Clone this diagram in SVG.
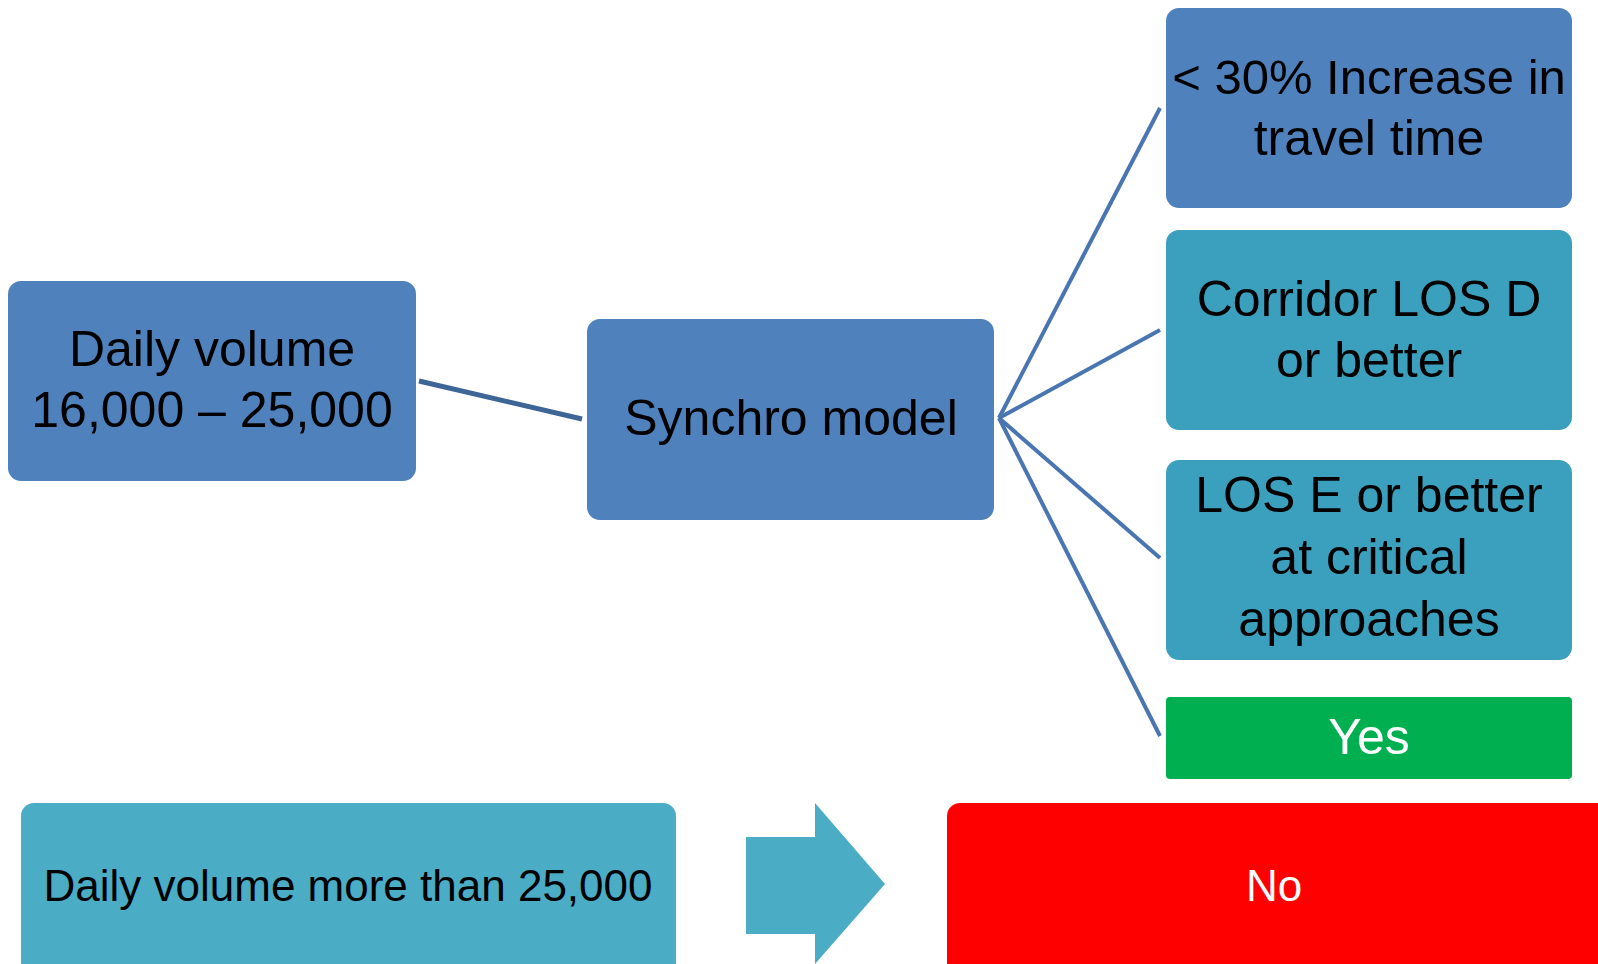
<svg xmlns="http://www.w3.org/2000/svg" width="1598" height="964" viewBox="0 0 1598 964">
<style>
text{font-family:"Liberation Sans",Arial,sans-serif;text-anchor:middle;fill:#000}
.t{font-size:50px}
.s{font-size:44px}
.w{fill:#fff}
.conn line{stroke:#4975B0;stroke-width:4;fill:none}
</style>
<rect width="1598" height="964" fill="#fff"/>
<g class="conn" id="connectors">
<line x1="419" y1="381" x2="582" y2="419" style="stroke:#3D6596;stroke-width:5"/>
<line x1="999" y1="418" x2="1160" y2="108"/>
<line x1="999" y1="418" x2="1160" y2="330"/>
<line x1="999" y1="418" x2="1160" y2="558"/>
<line x1="999" y1="418" x2="1160" y2="736"/>
</g>
<g id="n1"><rect x="8" y="281" width="408" height="200" rx="13" fill="#4F81BD"/>
<text class="t" x="212" y="366">Daily volume</text><text class="t" x="212" y="427">16,000 – 25,000</text></g>
<g id="n2"><rect x="587" y="319" width="407" height="201" rx="13" fill="#4F81BD"/>
<text class="t" x="791" y="435">Synchro model</text></g>
<g id="n3"><rect x="1166" y="8" width="406" height="200" rx="13" fill="#4F81BD"/>
<text class="t" x="1369" y="94" style="font-size:49px">&lt; 30% Increase in</text><text class="t" x="1369" y="155">travel time</text></g>
<g id="n4"><rect x="1166" y="230" width="406" height="200" rx="13" fill="#3BA0BD"/>
<text class="t" x="1369" y="316">Corridor LOS D</text><text class="t" x="1369" y="377">or better</text></g>
<g id="n5"><rect x="1166" y="460" width="406" height="200" rx="13" fill="#3BA0BD"/>
<text class="t" x="1369" y="512">LOS E or better</text><text class="t" x="1369" y="574">at critical</text><text class="t" x="1369" y="636">approaches</text></g>
<g id="n6"><rect x="1166" y="697" width="406" height="82" rx="4" fill="#00B050"/>
<text class="t w" x="1369" y="754">Yes</text></g>
<g id="n7"><rect x="21" y="803" width="655" height="180" rx="13" fill="#4BACC6"/>
<text class="s" x="348" y="901">Daily volume more than 25,000</text></g>
<g id="arrow"><polygon points="746,837 815,837 815,803 885,884 815,964 815,934 746,934" fill="#4BACC6"/></g>
<g id="n8"><rect x="947" y="803" width="670" height="180" rx="13" fill="#FF0000"/>
<text class="s w" x="1274" y="901">No</text></g>
</svg>
